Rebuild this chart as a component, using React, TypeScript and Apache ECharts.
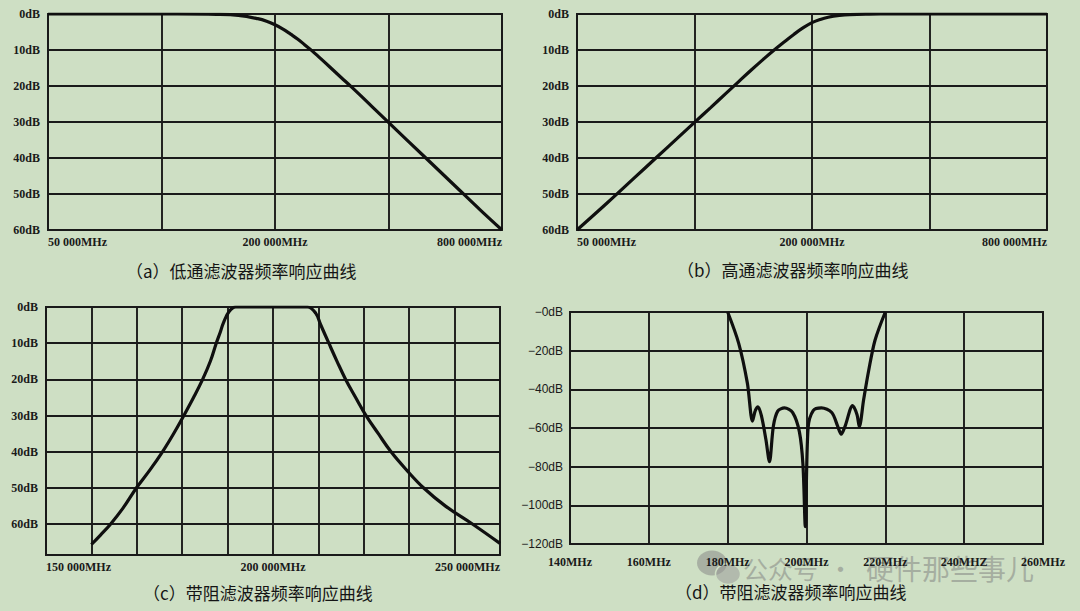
import React, { useEffect, useRef } from 'react';
import * as echarts from 'echarts';

// ---------- (a) 低通滤波器 ----------
const lowpassFreq = [50000, 80000, 110000, 140000, 160000, 180000, 190000, 200000, 210000, 220000, 230000, 240000, 250000, 260000, 280000, 300000, 320000, 360000, 400000, 500000, 600000, 700000, 800000];
const lowpassDb = [0, 0, 0, 0.1, 0.4, 1.3, 2.0, 3.0, 4.2, 5.6, 7.0, 8.6, 10.1, 11.7, 14.8, 17.7, 20.4, 25.5, 30.1, 39.8, 47.7, 54.4, 60];

// ---------- (b) 高通滤波器 ----------
const highpassFreq = [50000, 60000, 70000, 80000, 90000, 100000, 110000, 120000, 130000, 140000, 150000, 160000, 170000, 180000, 190000, 200000, 210000, 220000, 235000, 250000, 280000, 320000, 400000, 800000];
const highpassDb = [60, 52.3, 45.6, 39.8, 34.7, 30.1, 26.0, 22.2, 18.7, 15.5, 12.6, 10.0, 7.7, 5.6, 3.8, 2.4, 1.5, 0.9, 0.4, 0.15, 0.03, 0, 0, 0];

// ---------- (c) 带阻滤波器 ----------
const bandCFreq = [160000, 162000, 164200, 167000, 169900, 172900, 175650, 178100, 180350, 182500, 184500, 186200, 187500, 188400, 189100, 190300, 191800, 200000, 207600, 209400, 210500, 212300, 214100, 216000, 218200, 220500, 223200, 226000, 229400, 233200, 238000, 244000, 250000];
const bandCDb = [65.6, 63.0, 60, 55.5, 50, 45, 40, 35, 30, 25, 20, 15, 10, 6.9, 4.3, 1.3, 0, 0, 0, 1.7, 4.9, 10, 15, 20, 25, 30, 35, 40, 45, 50, 55, 60, 65.3];

// ---------- (d) 带阻滤波器 ----------
const bandDFreq = [180, 182.8, 185.0, 186.3, 187.0, 187.7, 188.6, 189.7, 190.6, 191.6, 192.7, 194.4, 196.5, 198.2, 199.1, 199.7, 200.4, 201.7, 203.8, 206.4, 207.9, 208.8, 209.8, 211.7, 212.8, 213.4, 214.5, 215.8, 217.4, 220];
const bandDDb = [0, -16.2, -36.8, -56.4, -51, -49, -54, -66, -77.4, -59, -51.3, -49.6, -52, -62, -79, -111, -60, -51, -49.6, -52, -59, -63.2, -59, -48.4, -53, -59.3, -45.3, -30, -14.5, 0];

// ---------- tick labels ----------
const octaveTickLabels = ['50 000MHz', '', '200 000MHz', '', '800 000MHz'];
const dbTickLabels = ['0dB', '10dB', '20dB', '30dB', '40dB', '50dB', '60dB'];
const bandCTickLabels = ['150 000MHz', '', '', '', '', '200 000MHz', '', '', '', '', '250 000MHz'];
const bandDTickLabels = ['140MHz', '160MHz', '180MHz', '200MHz', '220MHz', '240MHZ', '260MHz'];
const bandDDbLabels = ['−0dB', '−20dB', '−40dB', '−60dB', '−80dB', '−100dB', '−120dB'];
const captions = ['（a）低通滤波器频率响应曲线', '（b）高通滤波器频率响应曲线', '（c）带阻滤波器频率响应曲线', '（d）带阻滤波器频率响应曲线'];

const BG = '#cedfc4';
const GRID_LINE = '#1a1a1a';
const CURVE = '#0f0f0f';
const SERIF = "'Liberation Serif', 'Times New Roman', serif";
const CJK = "'Noto Sans CJK SC', sans-serif";

const lineStyle = { color: GRID_LINE, width: 1.9 };

function gridBox(left: number, top: number, width: number, height: number) {
  return { left, top, width, height, show: true, borderColor: GRID_LINE, borderWidth: 1.9, backgroundColor: 'transparent' };
}

function xAxisCommon(gridIndex: number, extra: any, label: any) {
  return {
    gridIndex,
    type: 'value',
    axisLine: { show: true, lineStyle },
    axisTick: { show: false },
    splitLine: { show: true, lineStyle },
    axisLabel: {
      fontFamily: SERIF,
      fontWeight: 'bold',
      fontSize: 12,
      color: '#1a1a1a',
      ...label,
    },
    ...extra,
  };
}

function yAxisCommon(gridIndex: number, extra: any, label: any) {
  return {
    gridIndex,
    type: 'value',
    axisLine: { show: true, lineStyle },
    axisTick: { show: false },
    splitLine: { show: true, lineStyle },
    axisLabel: {
      fontFamily: SERIF,
      fontWeight: 'bold',
      fontSize: 12,
      color: '#1a1a1a',
      margin: 8,
      ...label,
    },
    ...extra,
  };
}

function curve(xi: number, data: number[][], smooth: number) {
  return {
    type: 'line',
    xAxisIndex: xi,
    yAxisIndex: xi,
    data,
    smooth,
    symbol: 'none',
    showSymbol: false,
    lineStyle: { color: CURVE, width: 3.2 },
    silent: true,
  };
}

export default function App() {
  const ref = useRef<HTMLDivElement>(null);

  useEffect(() => {
    document.body.style.margin = '0';
    if (!ref.current) return;
    const chart = echarts.init(ref.current, undefined, { renderer: 'svg' });

    const octave = (f: number) => Math.log2(f / 50000);
    const dbFmt = (v: number) => (Number.isInteger(v / 10) ? dbTickLabels[v / 10] ?? '' : '');

    const option: any = {
      animation: false,
      backgroundColor: BG,
      grid: [
        gridBox(48, 14, 454, 216),
        gridBox(577, 14, 470, 216),
        gridBox(46, 307, 454, 248),
        gridBox(570, 312, 473, 232),
      ],
      xAxis: [
        xAxisCommon(0, { min: 0, max: 4, interval: 1 }, {
          margin: 6,
          alignMinLabel: 'left',
          alignMaxLabel: 'right',
          formatter: (v: number) => octaveTickLabels[Math.round(v)] ?? '',
        }),
        xAxisCommon(1, { min: 0, max: 4, interval: 1 }, {
          margin: 6,
          alignMinLabel: 'left',
          alignMaxLabel: 'right',
          formatter: (v: number) => octaveTickLabels[Math.round(v)] ?? '',
        }),
        xAxisCommon(2, { min: 150000, max: 250000, interval: 10000 }, {
          margin: 6,
          alignMinLabel: 'left',
          alignMaxLabel: 'right',
          formatter: (v: number) => bandCTickLabels[Math.round((v - 150000) / 10000)] ?? '',
        }),
        xAxisCommon(3, { min: 140, max: 260, interval: 20 }, {
          margin: 12,
          formatter: (v: number) => bandDTickLabels[Math.round((v - 140) / 20)] ?? '',
        }),
      ],
      yAxis: [
        yAxisCommon(0, { inverse: true, min: 0, max: 60, interval: 10 }, { formatter: dbFmt }),
        yAxisCommon(1, { inverse: true, min: 0, max: 60, interval: 10 }, { formatter: dbFmt }),
        yAxisCommon(2, { inverse: true, min: 0, max: 68.5, interval: 10 }, { formatter: dbFmt }),
        yAxisCommon(3, { min: -120, max: 0, interval: 20 }, {
          fontFamily: "'Liberation Sans Narrow', 'Liberation Sans', sans-serif",
          fontWeight: 'normal',
          fontSize: 12,
          margin: 7,
          formatter: (v: number) => bandDDbLabels[Math.round(-v / 20)] ?? '',
        }),
      ],
      series: [
        curve(0, lowpassFreq.map((f, i) => [octave(f), lowpassDb[i]]), 0.4),
        curve(1, highpassFreq.map((f, i) => [octave(f), highpassDb[i]]), 0.4),
        curve(2, bandCFreq.map((f, i) => [f, bandCDb[i]]), 0.4),
        curve(3, bandDFreq.map((f, i) => [f, bandDDb[i]]), 0.3),
      ],
      graphic: [
        { type: 'text', left: 242 - 116, top: 262, style: { text: captions[0], font: `17px ${CJK}`, fill: '#151515' } },
        { type: 'text', left: 793 - 116, top: 261, style: { text: captions[1], font: `17px ${CJK}`, fill: '#151515' } },
        { type: 'text', left: 259 - 116, top: 584, style: { text: captions[2], font: `17px ${CJK}`, fill: '#151515' } },
        { type: 'text', left: 791 - 116, top: 583, style: { text: captions[3], font: `17px ${CJK}`, fill: '#151515' } },
        // watermark
        {
          type: 'group',
          silent: true,
          children: [
            { type: 'ellipse', shape: { cx: 712, cy: 563, rx: 15, ry: 12.5 }, style: { fill: 'rgba(130,130,130,0.5)' } },
            { type: 'ellipse', shape: { cx: 728, cy: 574, rx: 12.5, ry: 10.5 }, style: { fill: 'rgba(150,150,150,0.5)', stroke: BG, lineWidth: 1.5 } },
            { type: 'text', x: 743, y: 568, style: { text: '公众号', font: `25px ${CJK}`, fill: 'rgba(125,125,125,0.5)', textVerticalAlign: 'middle' } },
            { type: 'text', x: 828, y: 568, style: { text: '·', font: `25px ${CJK}`, fill: 'rgba(125,125,125,0.5)', textVerticalAlign: 'middle' } },
            { type: 'text', x: 866, y: 568, style: { text: '硬件那些事儿', font: `28px ${CJK}`, fill: 'rgba(125,125,125,0.5)', textVerticalAlign: 'middle' } },
          ],
        },
      ],
    };

    chart.setOption(option);
    return () => chart.dispose();
  }, []);

  return <div ref={ref} style={{ width: 1080, height: 611, background: BG }} />;
}
